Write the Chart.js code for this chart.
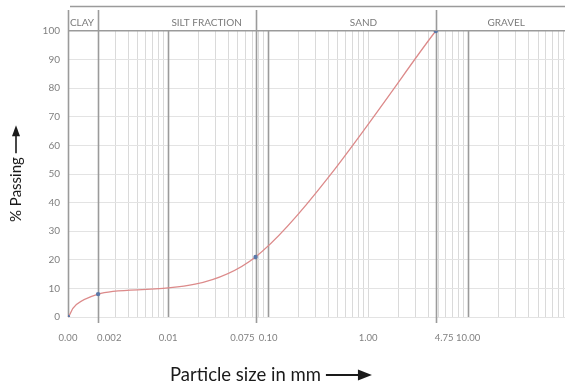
<!DOCTYPE html>
<html>
<head>
<meta charset="utf-8">
<script src="https://cdn.jsdelivr.net/npm/chart.js@4.4.1/dist/chart.umd.min.js"></script>
<style>
  html, body { margin: 0; padding: 0; background: #fff; }
  #wrap { width: 565px; height: 389px; }
</style>
</head>
<body>
<div id="wrap"><canvas id="gsdChart"></canvas></div>
<script>
// sieve analysis results
const sizes = [0.001, 0.002, 0.075, 4.75];     // mm
const passing = [0, 8, 21, 100];               // %

// x axis labels (Excel-style, some aligned to the line)
const xTickValues = [0.001, 0.002, 0.01, 0.075, 0.1, 1, 4.75, 10];
const xTickLabels = ['0.00', '0.002', '0.01', '0.075', '0.10', '1.00', '4.75', '10.00'];
const xTickAlign = ['center', 'left', 'center', 'right', 'center', 'center', 'left', 'center'];

// soil fractions
const zoneBounds = [0.001, 0.002, 0.075, 4.75];
const zoneNames = ['CLAY', 'SILT FRACTION', 'SAND', 'GRAVEL'];
const zoneLabelAt = [0.00138, 0.0243, 0.9, 24];

// heavier vertical lines
const darkLines = [0.001, 0.002, 0.01, 0.075, 0.1, 4.75, 10];

// log grid 1..9 per decade
const decades = [0.001, 0.01, 0.1, 1, 10];
const gridValues = [];
decades.forEach(d => { for (let k = 1; k <= 9; k++) gridValues.push(+(d * k).toPrecision(3)); });

const FONT = 'Lato, "DejaVu Sans", sans-serif';

const soilPlugin = {
  id: 'soil',
  beforeDatasetsDraw(chart) {
    const { ctx, chartArea: a, scales: { x, y } } = chart;
    ctx.save();

    // fraction boundaries and heavy lines
    ctx.strokeStyle = '#9b9b9b';
    ctx.lineWidth = 1.6;
    darkLines.forEach(v => {
      const px = Math.round(x.getPixelForValue(v)) + 0.5;
      const zone = zoneBounds.includes(v);
      ctx.beginPath();
      ctx.moveTo(px, zone ? 10 : a.top);
      ctx.lineTo(px, zone && v !== zoneBounds[0] ? a.bottom + 6 : a.bottom);
      ctx.stroke();
    });
    // header top line
    ctx.beginPath();
    ctx.moveTo(a.left + 2, 6.5);
    ctx.lineTo(a.right, 6.5);
    ctx.stroke();

    // fraction names
    ctx.fillStyle = '#7a7a7a';
    ctx.font = '10px ' + FONT;
    ctx.textAlign = 'center';
    ctx.textBaseline = 'middle';
    zoneNames.forEach((n, i) => ctx.fillText(n, x.getPixelForValue(zoneLabelAt[i]), 23));

    // smoothed grading curve (Catmull-Rom like Excel's smooth line)
    const pts = sizes.map((s, i) => ({ x: x.getPixelForValue(s), y: y.getPixelForValue(passing[i]) }));
    ctx.strokeStyle = '#dc8a8a';
    ctx.lineWidth = 1.3;
    ctx.beginPath();
    ctx.moveTo(pts[0].x, pts[0].y);
    for (let i = 0; i < pts.length - 1; i++) {
      const p0 = pts[Math.max(i - 1, 0)], p1 = pts[i], p2 = pts[i + 1], p3 = pts[Math.min(i + 2, pts.length - 1)];
      ctx.bezierCurveTo(
        p1.x + (p2.x - p0.x) / 6, p1.y + (p2.y - p0.y) / 6,
        p2.x - (p3.x - p1.x) / 6, p2.y - (p3.y - p1.y) / 6,
        p2.x, p2.y);
    }
    ctx.stroke();
    ctx.restore();
  },
  afterDraw(chart) {
    const { ctx, chartArea: a, scales: { x } } = chart;
    ctx.save();

    // x tick labels
    ctx.fillStyle = '#808080';
    ctx.font = '9.5px ' + FONT;
    ctx.textBaseline = 'middle';
    xTickValues.forEach((v, i) => {
      const px = x.getPixelForValue(v);
      ctx.textAlign = xTickAlign[i];
      ctx.fillText(xTickLabels[i], xTickAlign[i] === 'center' ? px : px - 1, a.bottom + 21);
    });

    // axis titles with arrows
    ctx.fillStyle = '#1a1a1a';
    ctx.strokeStyle = '#1a1a1a';
    ctx.lineWidth = 2;

    ctx.font = '18.5px ' + FONT;
    ctx.textAlign = 'left';
    const xt = 'Particle size in mm';
    const tx = 170, ty = 375;
    ctx.fillText(xt, tx, ty);
    const xe = tx + ctx.measureText(xt).width + 5;
    ctx.beginPath(); ctx.moveTo(xe, ty); ctx.lineTo(xe + 33, ty); ctx.stroke();
    ctx.beginPath(); ctx.moveTo(xe + 46, ty); ctx.lineTo(xe + 32, ty - 5.5); ctx.lineTo(xe + 32, ty + 5.5); ctx.closePath(); ctx.fill();

    ctx.font = '15px ' + FONT;
    const yt = '% Passing';
    ctx.translate(16, 222);
    ctx.rotate(-Math.PI / 2);
    ctx.fillText(yt, 0, 0);
    const ye = ctx.measureText(yt).width + 4;
    ctx.lineWidth = 1.6;
    ctx.beginPath(); ctx.moveTo(ye, 0); ctx.lineTo(ye + 18, 0); ctx.stroke();
    ctx.beginPath(); ctx.moveTo(ye + 28, 0); ctx.lineTo(ye + 17, -4); ctx.lineTo(ye + 17, 4); ctx.closePath(); ctx.fill();

    ctx.restore();
  }
};

new Chart(document.getElementById('gsdChart').getContext('2d'), {
  type: 'scatter',
  data: {
    datasets: [{
      data: sizes.map((s, i) => ({ x: s, y: passing[i] })),
      showLine: false,
      pointRadius: 2.2,
      pointBorderWidth: 0,
      pointBackgroundColor: '#5a78a8'
    }]
  },
  options: {
    responsive: true,
    maintainAspectRatio: false,
    animation: false,
    layout: { autoPadding: false, padding: { top: 31, right: 0, bottom: 0, left: 0 } },
    plugins: {
      legend: { display: false },
      tooltip: { enabled: false }
    },
    scales: {
      x: {
        type: 'logarithmic',
        bounds: 'data',
        min: 0.001,
        max: 93,
        afterBuildTicks: s => { s.ticks = gridValues.map(v => ({ value: v })); },
        afterFit: s => { s.height = 72; },
        ticks: { display: false },
        grid: { color: '#dadada', lineWidth: 1, drawTicks: false },
        border: { display: false }
      },
      y: {
        min: 0,
        max: 100,
        afterFit: s => { s.width = 68; },
        ticks: { stepSize: 10, padding: 8, color: '#808080', font: { family: FONT, size: 10 } },
        grid: {
          color: c => c.tick.value === 100 ? '#9b9b9b' : '#e3e3e3',
          lineWidth: c => c.tick.value === 100 ? 1.6 : 1,
          drawTicks: false
        },
        border: { display: false }
      }
    }
  },
  plugins: [soilPlugin]
});
</script>
</body>
</html>
